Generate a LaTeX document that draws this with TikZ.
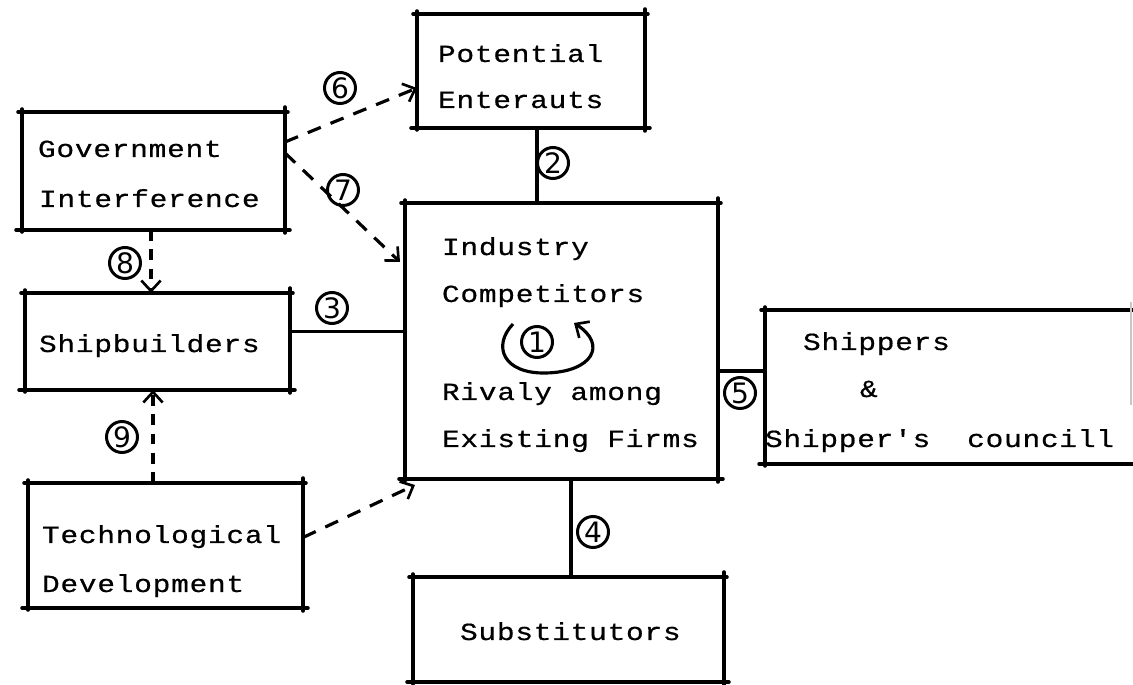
\documentclass[tikz,border=0pt]{standalone}
\usepackage{fontspec}
\newfontfamily\typewriter[FakeStretch=1.2,LetterSpace=3,FakeBold=0.6]{Liberation Mono}
\newfontfamily\handdigits{DejaVu Sans}
\usetikzlibrary{arrows.meta,calc,fit}

% box outline whose edges run a little past the corners, as if ruled by hand
\newcommand\ruledframe[1]{%
  \draw[frameline] ($(#1.north west)+(-4,0)$) -- ($(#1.north east)+(3,0)$);
  \draw[frameline] ($(#1.south west)+(-6,0)$) -- ($(#1.south east)+(5,0)$);
  \draw[frameline] ($(#1.north west)+(0,-3)$) -- ($(#1.south west)+(0,2)$);
  \draw[frameline] ($(#1.north east)+(0,-5)$) -- ($(#1.south east)+(0,3)$);
}

\begin{document}
\begin{tikzpicture}[x=0.02cm,y=-0.02cm,
  every node/.style={inner sep=0pt,outer sep=0pt},
  area/.style={draw=none},
  frameline/.style={line width=2pt,line cap=round},
  caption/.style={anchor=base west,font=\typewriter\fontsize{14}{16}\selectfont},
  num/.style={circle,draw,line width=1.7pt,minimum size=0.62cm,
    font=\handdigits\fontsize{16}{16}\selectfont},
  link/.style={line width=1.8pt},
  tip/.style={-{Straight Barb[length=6pt,width=11pt,line width=1.5pt]}},
  dashlong/.style={link,tip,dash pattern=on 8pt off 6pt},
  dashshort/.style={link,tip,dash pattern=on 6pt off 5pt}]

\useasboundingbox (0,0) rectangle (1133,685);

% ---- boxes
\coordinate (pe-a) at (417,14);   \coordinate (pe-b) at (645,128);
\coordinate (gov-a) at (22,112);  \coordinate (gov-b) at (285,230);
\coordinate (ind-a) at (405,203); \coordinate (ind-b) at (718,479);
\coordinate (ship-a) at (25,293); \coordinate (ship-b) at (290,390);
\coordinate (tech-a) at (28,483); \coordinate (tech-b) at (303,608);
\coordinate (sub-a) at (413,577); \coordinate (sub-b) at (724,682);
\coordinate (shp-a) at (765,310); \coordinate (shp-b) at (1131,464);
\node[area,fit=(pe-a) (pe-b)]     (pe)   {};
\node[area,fit=(gov-a) (gov-b)]   (gov)  {};
\node[area,fit=(ind-a) (ind-b)]   (ind)  {};
\node[area,fit=(ship-a) (ship-b)] (ship) {};
\node[area,fit=(tech-a) (tech-b)] (tech) {};
\node[area,fit=(sub-a) (sub-b)]   (sub)  {};
\node[area,fit=(shp-a) (shp-b)]   (shp)  {};

\ruledframe{pe}
\ruledframe{gov}
\ruledframe{ind}
\ruledframe{ship}
\ruledframe{tech}
\ruledframe{sub}
% the shippers box runs off the right edge of the sheet
\draw[frameline] ($(shp.north west)+(-4,0)$) -- ($(shp.north east)+(2,0)$);
\draw[frameline] ($(shp.south west)+(-6,0)$) -- ($(shp.south east)+(2,0)$);
\draw[frameline] ($(shp.north west)+(0,-3)$) -- ($(shp.south west)+(0,2)$);
\draw[gray!45,line width=0.6pt] ($(shp.north east)+(0,-8)$) -- ($(shp.north east)+(0,95)$);

% ---- captions
\node[caption] (pe1)   at (438,62)  {Potential};
\node[caption] (pe2)   at (438,108) {Enterauts};
\node[caption] (gov1)  at (38,157)  {Government};
\node[caption] (gov2)  at (39,207)  {Interference};
\node[caption] (ind1)  at (442,255) {Industry};
\node[caption] (ind2)  at (442,302) {Competitors};
\node[caption] (ind3)  at (442,400) {Rivaly among};
\node[caption] (ind4)  at (442,447) {Existing Firms};
\node[caption] (ship1) at (39,352)  {Shipbuilders};
\node[caption] (tech1) at (42,543)  {Technological};
\node[caption] (tech2) at (42,592)  {Development};
\node[caption] (sub1)  at (460,640) {Substitutors};
\node[caption] (shp1)  at (803,350) {Shippers};
\node[caption] (shp2)  at (860,397) {\&};
\node[caption] (shp3)  at (765,447) {Shipper's\ \ councill};

% ---- solid links to the industry box
\coordinate (c2) at ($(pe.south)+(6,0)$);
\draw[link] (c2) -- (c2 |- ind.north);
\coordinate (c3) at ($(ship.east)+(0,-10)$);
\draw[link] (c3) -- (c3 -| ind.west);
\coordinate (c4) at ($(ind.south)+(9.5,0)$);
\draw[link] (c4) -- (c4 |- sub.north);
\coordinate (c5) at ($(ind.east)+(0,30)$);
\draw[link] (c5) -- (c5 -| shp.west);

% ---- dashed influences
\draw[dashlong] ($(gov.east)+(0,-29)$) -- ($(pe.west)+(0,17)$);
\draw[dashlong] ($(gov.east)+(0,-18)$) -- ($(ind.west)+(-5,-79)$);
\coordinate (c8) at ($(gov.south)+(-2.5,0)$);
\draw[dashshort] (c8) -- (c8 |- ship.north);
\coordinate (c9) at ($(tech.north)+(-12.5,0)$);
\draw[dashshort] (c9) -- (c9 |- ship.south);
\draw[dashlong] ($(tech.east)+(0,-8)$) -- ($(ind.south west)+(10,6)$);

% ---- numbered markers
\node[num] (n1) at (537,342) {1};
\draw[link,tip] (513,324) .. controls (492,346) and (503,374) .. (546,373)
      .. controls (592,372) and (608,345) .. (574,323);
\node[num] (n2) at (553,163) {2};
\node[num] (n3) at (332,308) {3};
\node[num] (n4) at (593,532) {4};
\node[num] (n5) at (740,393) {5};
\node[num] (n6) at (340,88)  {6};
\node[num] (n7) at (343,190) {7};
\node[num] (n8) at (125,263) {8};
\node[num] (n9) at (122,437) {9};

\end{tikzpicture}
\end{document}
